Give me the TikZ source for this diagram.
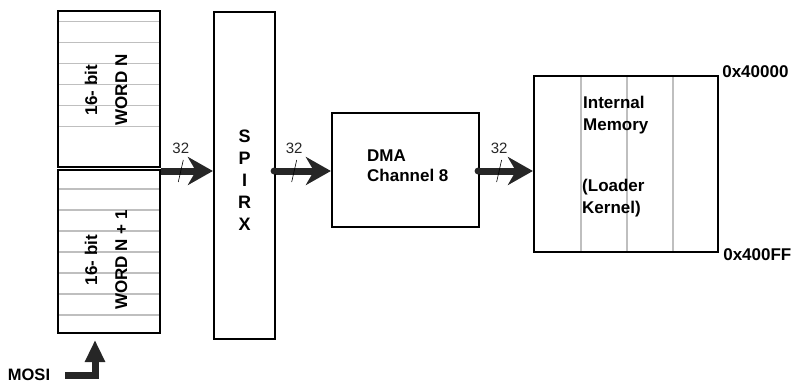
\documentclass[tikz,border=0pt]{standalone}
\usepackage{fontspec}
\setmainfont{Liberation Sans}
\usetikzlibrary{arrows.meta,calc,positioning,backgrounds}

\begin{document}
\begin{tikzpicture}[x=1pt,y=-1pt,
  blk/.style={draw,line width=2.2pt,inner sep=0pt},
  grid/.style={gray!50,line width=1.2pt},
  bus/.style={line width=7pt,black!85,-{Stealth[length=25pt,width=28pt,inset=8pt]}},
  mosiarr/.style={line width=7pt,black!85,-{Triangle[length=22pt,width=19pt]}},
  txt/.style={font=\bfseries\fontsize{17}{20}\selectfont,inner sep=0pt},
  bw/.style={pos=#1,inner sep=0pt,minimum size=0pt,
    label={[font=\fontsize{15}{15}\selectfont,label distance=7pt]90:32}}]
  \useasboundingbox (0,0) rectangle (794,383);
  % shift register halves, spirx, dma, memory
  \node[blk,minimum width=102pt,minimum height=156pt] (wordN) at (109,89) {};
  \node[blk,minimum width=102pt,minimum height=163pt] (wordNi) at (109,251.5) {};
  \node[blk,minimum width=61pt,minimum height=327pt] (spirx) at (244.5,175.5) {};
  \node[blk,minimum width=147pt,minimum height=114pt] (dma) at (405.5,170) {};
  \node[blk,minimum width=184pt,minimum height=176pt] (mem) at (626,164) {};
  % bit lines / memory columns
  \begin{scope}[on background layer]
    \foreach \y in {21.5,42.5,...,147} \draw[grid] (wordN.west |- 0,\y) -- (wordN.east |- 0,\y);
    \foreach \y in {189,210,...,316} \draw[grid] (wordNi.west |- 0,\y) -- (wordNi.east |- 0,\y);
    \foreach \x in {581,627,673} \draw[grid] (mem.north -| \x,0) -- (mem.south -| \x,0);
  \end{scope}
  % labels
  \node[txt,rotate=90,align=center,font=\bfseries\fontsize{17}{30}\selectfont] (lblN) at (106,90) {16- bit\\WORD N};
  \node[txt,rotate=90,align=center,font=\bfseries\fontsize{17}{30}\selectfont] (lblNi) at (106,260) {16- bit\\WORD N + 1};
  \node[txt,align=center,font=\bfseries\fontsize{18}{22}\selectfont] (lblspi) at ([yshift=-5pt]spirx.center) {S\\P\\I\\R\\X};
  \node[txt,align=left,anchor=north west,font=\bfseries\fontsize{17}{19.5}\selectfont] (lbldma) at (367,150) {DMA\\Channel 8};
  \node[txt,align=left,anchor=north west,font=\bfseries\fontsize{17}{22}\selectfont] (lblmem) at (583,95.5) {Internal\\Memory};
  \node[txt,align=left,anchor=north west,font=\bfseries\fontsize{17}{22}\selectfont] (lblldr) at (582,178.5) {(Loader\\Kernel)};
  \node[txt,anchor=base west] (atop) at ([xshift=3pt,yshift=-3pt]mem.north east) {0x40000};
  \node[txt,anchor=base west] (abot) at ([xshift=4pt,yshift=-7pt]mem.south east) {0x400FF};
  % 32-bit buses
  \coordinate (busy) at (0,171);
  \draw[bus] (wordNi.east |- busy) -- node[bw=0.38] (w1) {} (spirx.west |- busy);
  \draw[bus] (spirx.east |- busy) -- node[bw=0.33] (w2) {} (dma.west |- busy);
  \draw[bus] (dma.east |- busy) -- node[bw=0.36] (w3) {} (mem.west |- busy);
  \fill[black!85] ([xshift=-2pt]spirx.east |- busy) circle (3.5pt);
  \fill[black!85] ([xshift=-2pt]dma.east |- busy) circle (3.5pt);
  \foreach \w in {w1,w2,w3}
    \draw[line width=0.6pt] ([shift={(2.5,-11)}]\w.center) -- ([shift={(-2.5,11)}]\w.center);
  % serial input
  \node[txt,font=\bfseries\fontsize{16.5}{18}\selectfont] (mosi) at (29,375) {MOSI};
  \coordinate (mositip) at (95,340);
  \draw[mosiarr] ([xshift=15pt]mosi.east) -| (mositip);
\end{tikzpicture}
\end{document}
